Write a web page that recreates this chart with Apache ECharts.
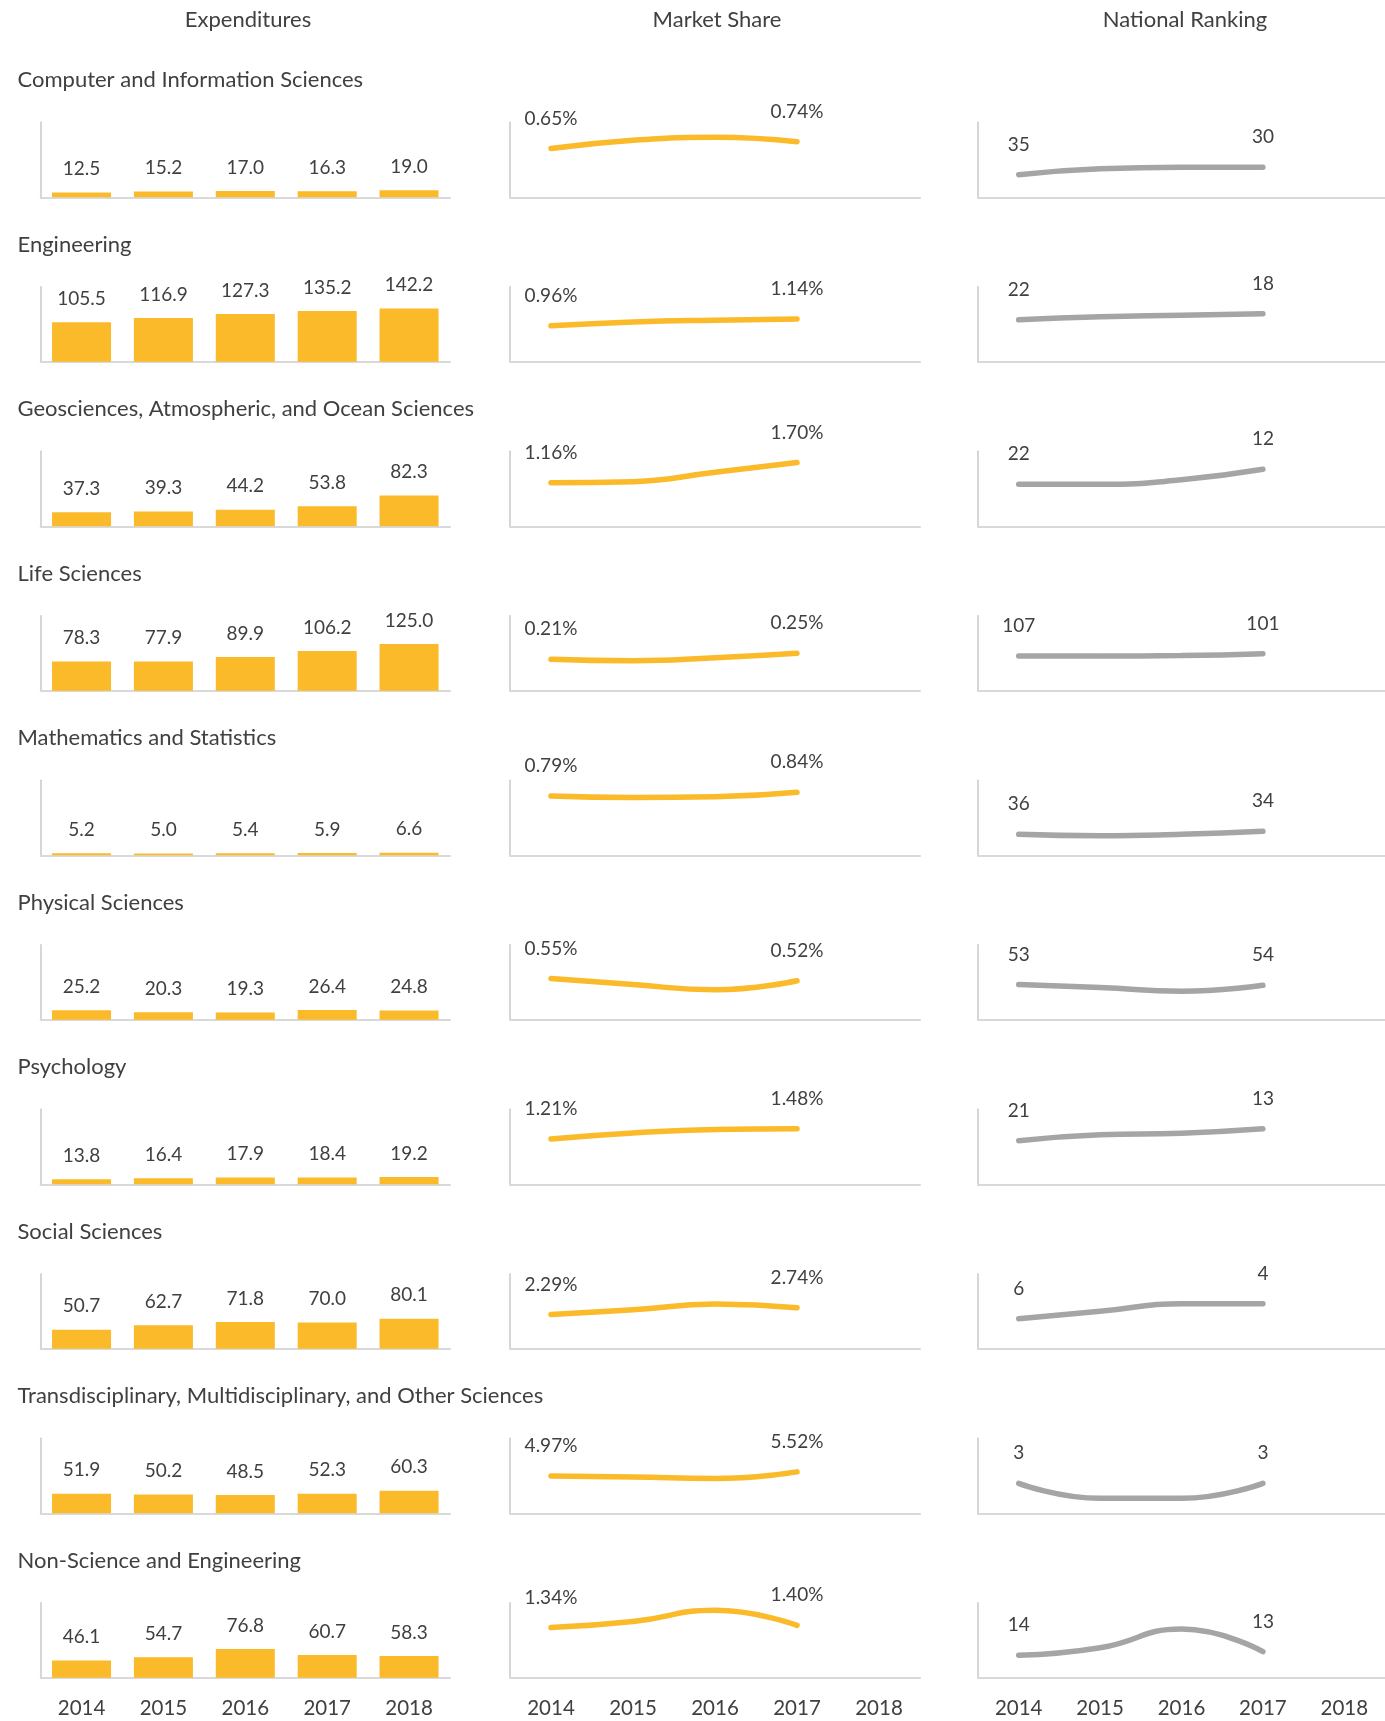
<!DOCTYPE html>
<html>
<head>
<meta charset="utf-8">
<title>R&amp;D by field</title>
<script src="https://cdn.jsdelivr.net/npm/echarts@6/dist/echarts.min.js"></script>
<style>
  html, body { margin: 0; padding: 0; background: #fff; }
  #chart { width: 1385px; height: 1721px; }
</style>
</head>
<body>
<div id="chart"></div>
<script>
// data
const years = ['2014', '2015', '2016', '2017', '2018']
const columnTitles = ['Expenditures', 'Market Share', 'National Ranking']
const fields = [
  'Computer and Information Sciences',
  'Engineering',
  'Geosciences, Atmospheric, and Ocean Sciences',
  'Life Sciences',
  'Mathematics and Statistics',
  'Physical Sciences',
  'Psychology',
  'Social Sciences',
  'Transdisciplinary, Multidisciplinary, and Other Sciences',
  'Non-Science and Engineering'
]
const expenditures = [
  [12.5, 15.2, 17.0, 16.3, 19.0],
  [105.5, 116.9, 127.3, 135.2, 142.2],
  [37.3, 39.3, 44.2, 53.8, 82.3],
  [78.3, 77.9, 89.9, 106.2, 125.0],
  [5.2, 5.0, 5.4, 5.9, 6.6],
  [25.2, 20.3, 19.3, 26.4, 24.8],
  [13.8, 16.4, 17.9, 18.4, 19.2],
  [50.7, 62.7, 71.8, 70.0, 80.1],
  [51.9, 50.2, 48.5, 52.3, 60.3],
  [46.1, 54.7, 76.8, 60.7, 58.3]
]
// market share in %, 2014-2017
const marketShare = [
  [0.65, 0.76, 0.80, 0.74],
  [0.96, 1.06, 1.11, 1.14],
  [1.16, 1.19, 1.44, 1.70],
  [0.21, 0.20, 0.22, 0.25],
  [0.79, 0.77, 0.78, 0.84],
  [0.55, 0.47, 0.40, 0.52],
  [1.21, 1.37, 1.46, 1.48],
  [2.29, 2.60, 2.98, 2.74],
  [4.97, 4.85, 4.65, 5.52],
  [1.34, 1.50, 1.80, 1.40]
]
const shareAxisMax = [1, 2, 2, 0.5, 1, 1, 2, 5, 10, 2]
// national ranking, 2014-2017
const ranking = [
  [35, 31, 30, 30],
  [22, 20, 19, 18],
  [22, 22, 19, 12],
  [107, 107, 106, 101],
  [36, 37, 36, 34],
  [53, 57, 62, 54],
  [21, 17, 16, 13],
  [6, 5, 4, 4],
  [3, 4, 4, 3],
  [14, 12, 7, 13]
]
const rankAxisMax = [50, 50, 50, 200, 50, 100, 50, 10, 5, 20]
const expenditureAxisMax = 200

// 样式与布局
const FONT = 'Lato, "Open Sans", sans-serif'
const TEXT = '#404040'
const GOLD = '#FBBA2A'
const GREY = '#A5A5A5'
const ROW_PITCH = 164.5
const GRID_TOP = 122.3
const GRID_H = 75
const panels = [
  { left: 40.6, width: 409.4 },
  { left: 510, width: 410 },
  { left: 978, width: 410 }
]
const headerX = [248, 717, 1185]

const grids = []
const xAxes = []
const yAxes = []
const series = []
const graphics = []

columnTitles.forEach((t, c) => {
  graphics.push({
    type: 'text',
    x: headerX[c],
    y: 20,
    style: {
      text: t, fill: TEXT, font: '22px ' + FONT,
      align: 'center', verticalAlign: 'middle',
      textAlign: 'center', textVerticalAlign: 'middle'
    }
  })
})

fields.forEach((name, r) => {
  const last = r === fields.length - 1
  graphics.push({
    type: 'text',
    x: 17.5,
    y: 80 + r * ROW_PITCH,
    style: {
      text: name, fill: TEXT, font: '22px ' + FONT,
      align: 'left', verticalAlign: 'middle',
      textAlign: 'left', textVerticalAlign: 'middle'
    }
  })

  panels.forEach((p, c) => {
    const idx = r * 3 + c
    grids.push({ left: p.left, width: p.width, top: GRID_TOP + r * ROW_PITCH, height: GRID_H })
    xAxes.push({
      type: 'category',
      gridIndex: idx,
      data: years,
      axisLine: { onZero: false, lineStyle: { color: '#D9D9D9', width: 2 } },
      axisTick: { show: false },
      axisLabel: { show: last, color: TEXT, fontSize: 20.5, fontFamily: FONT, margin: 20 }
    })
    const y = {
      type: 'value',
      gridIndex: idx,
      min: 0,
      axisLine: { show: true, lineStyle: { color: '#C8C8C8', width: 1.5 } },
      axisTick: { show: false },
      axisLabel: { show: false },
      splitLine: { show: false }
    }
    if (c === 0) y.max = expenditureAxisMax
    if (c === 1) y.max = shareAxisMax[r]
    if (c === 2) { y.max = rankAxisMax[r]; y.inverse = true }
    yAxes.push(y)
  })

  series.push({
    type: 'bar',
    xAxisIndex: r * 3,
    yAxisIndex: r * 3,
    data: expenditures[r],
    barWidth: 59,
    itemStyle: { color: GOLD },
    label: {
      show: true, position: 'top', distance: 14,
      color: TEXT, fontSize: 19, fontFamily: FONT,
      formatter: p => p.value.toFixed(1)
    }
  })

  const lineLabel = (fmt) => ({
    show: true, position: 'top', distance: 20,
    color: TEXT, fontSize: 19, fontFamily: FONT, formatter: fmt
  })
  const endsOnly = (arr) => arr.map((v, i) => ({
    value: v,
    label: { show: i === 0 || i === arr.length - 1 }
  }))

  series.push({
    type: 'line',
    xAxisIndex: r * 3 + 1,
    yAxisIndex: r * 3 + 1,
    data: endsOnly(marketShare[r]),
    smooth: true,
    symbol: 'circle',
    symbolSize: 1,
    itemStyle: { color: GOLD },
    lineStyle: { color: GOLD, width: 5.5, cap: 'round' },
    label: lineLabel(p => p.value.toFixed(2) + '%')
  })

  series.push({
    type: 'line',
    xAxisIndex: r * 3 + 2,
    yAxisIndex: r * 3 + 2,
    data: endsOnly(ranking[r]),
    smooth: true,
    symbol: 'circle',
    symbolSize: 1,
    itemStyle: { color: GREY },
    lineStyle: { color: GREY, width: 5.5, cap: 'round' },
    label: lineLabel(p => String(p.value))
  })
})

const chart = echarts.init(document.getElementById('chart'), null, { renderer: 'canvas' })
chart.setOption({
  animation: false,
  backgroundColor: '#fff',
  textStyle: { fontFamily: FONT },
  grid: grids,
  xAxis: xAxes,
  yAxis: yAxes,
  series: series,
  graphic: graphics
})
window.addEventListener('resize', () => chart.resize())
</script>
</body>
</html>
